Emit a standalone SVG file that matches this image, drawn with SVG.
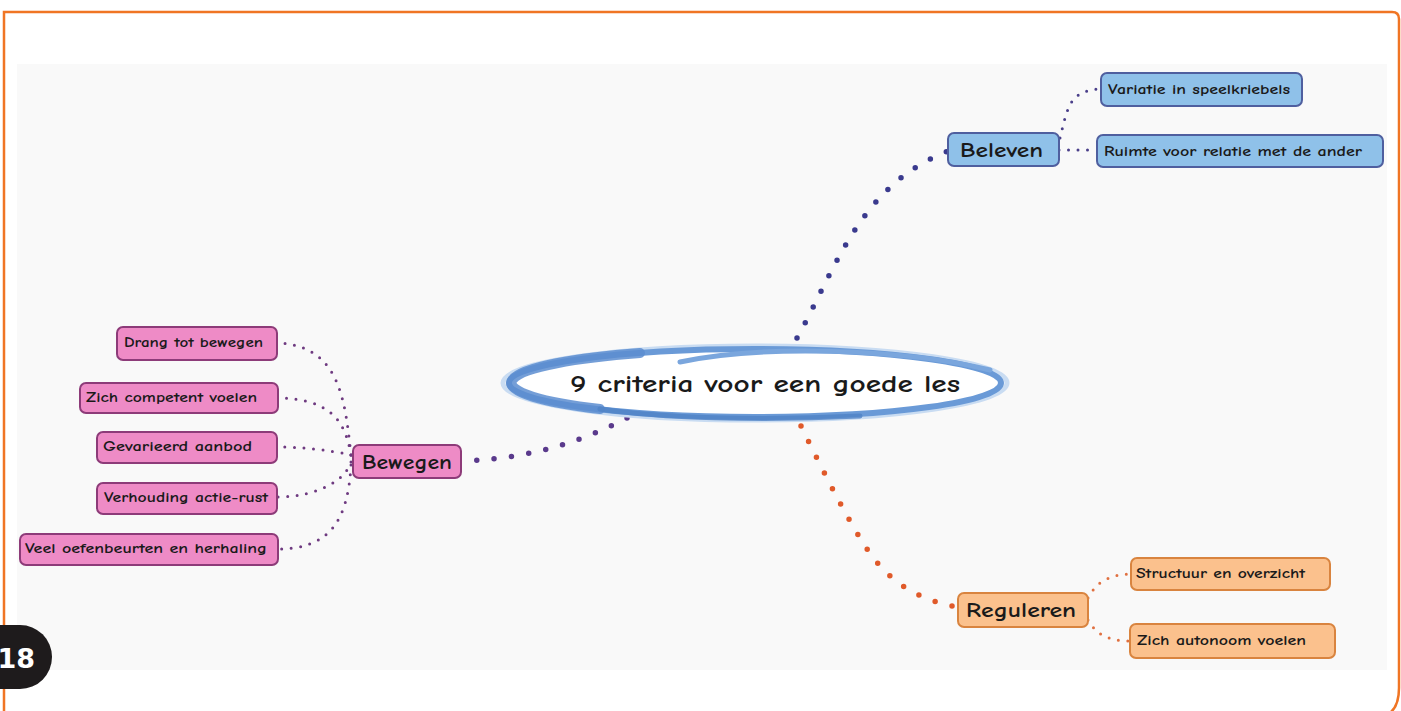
<svg xmlns="http://www.w3.org/2000/svg" width="1401" height="711" viewBox="0 0 1401 711">
<style>
.t{font-family:"Comic Neue","Liberation Sans",sans-serif;fill:#1a1a1a}
.sub{font-size:13px;font-weight:bold}
.main{font-size:20px;font-weight:bold}
.blue{fill:#8fc1e9;stroke:#4f5f9f;stroke-width:2}
.pink{fill:#ee8bc6;stroke:#8d3b79;stroke-width:2}
.orange{fill:#fbc18d;stroke:#d9843f;stroke-width:2}
.big{fill:none;stroke-linecap:round;stroke-width:5.5;stroke-dasharray:0 17.5}
.small{fill:none;stroke-linecap:round;stroke-width:3;stroke-dasharray:0 9.5}
</style>
<rect width="1401" height="711" fill="#ffffff"/>
<rect x="17" y="64" width="1370" height="606" fill="#f9f9f9"/>
<path d="M4,716 V12 H1392 Q1399,12 1399,19 V688 Q1399,711 1384,716" fill="none" stroke="#f07524" stroke-width="2.5"/>
<g id="badge">
<path d="M-10,625 H20 A32,32 0 0 1 20,689 H-10 Z" fill="#1e1b1c"/>
<text x="35" y="668" text-anchor="end" font-family="DejaVu Sans" font-weight="bold" font-size="27" fill="#ffffff">18</text>
</g>
<g id="connectors">
<path class="big" stroke="#3a3a8e" d="M797,338 C835,270 860,185 948,151"/>
<path class="big" stroke="#5a3a8c" d="M627,418 C590,437 540,458 463,461"/>
<path class="big" stroke="#e05a2a" d="M801,426 C825,475 855,535 875,560 C895,585 920,600 957,607"/>
<path class="small" stroke="#4a3f8a" d="M1060,138 C1068,105 1070,91 1100,89"/>
<path class="small" stroke="#4a3f8a" d="M1059,150 H1097"/>
<path class="small" stroke="#6e3a80" d="M351,455 C345,400 340,346 278,343"/>
<path class="small" stroke="#6e3a80" d="M351,455 C345,420 330,399 278,398"/>
<path class="small" stroke="#6e3a80" d="M351,455 C330,450 300,447 278,447"/>
<path class="small" stroke="#6e3a80" d="M351,462 C345,480 320,496 278,497"/>
<path class="small" stroke="#6e3a80" d="M351,465 C348,520 330,549 278,549"/>
<path class="small" stroke="#e07040" d="M1088,598 C1095,585 1105,575 1130,574"/>
<path class="small" stroke="#e07040" d="M1088,620 C1095,632 1105,641 1130,641"/>
</g>
<g id="center">
<ellipse cx="755" cy="383" rx="252" ry="37" fill="none" stroke="#c9dcf2" stroke-width="5"/>
<ellipse cx="755" cy="383" rx="246" ry="34" fill="#ffffff" stroke="#6a9ad7" stroke-width="6"/>
<path d="M640,353 A246,34 0 0 0 600,409" fill="none" stroke="#5c8dd0" stroke-width="10" stroke-linecap="round" opacity="0.85"/>
<path d="M680,362 C760,345 900,348 990,370" fill="none" stroke="#7aa6dd" stroke-width="5" stroke-linecap="round"/>
<path d="M600,409 C660,418 760,421 860,416" fill="none" stroke="#4f82c6" stroke-width="5" stroke-linecap="round" opacity="0.8"/>
<text class="t" x="765" y="392" text-anchor="middle" font-size="24" font-weight="bold" textLength="390" lengthAdjust="spacingAndGlyphs">9 criteria voor een goede les</text>
</g>
<g id="beleven">
<rect class="blue" x="948" y="133" width="111" height="33" rx="6"/>
<text class="t main" x="960" y="157" textLength="83" lengthAdjust="spacingAndGlyphs">Beleven</text>
</g>
<g id="variatie">
<rect class="blue" x="1101" y="73" width="201" height="33" rx="6"/>
<text class="t sub" x="1108" y="94" textLength="182" lengthAdjust="spacingAndGlyphs">Variatie in speelkriebels</text>
</g>
<g id="ruimte">
<rect class="blue" x="1097" y="135" width="286" height="32" rx="6"/>
<text class="t sub" x="1104" y="156" textLength="258" lengthAdjust="spacingAndGlyphs">Ruimte voor relatie met de ander</text>
</g>
<g id="bewegen">
<rect class="pink" x="353" y="445" width="108" height="33" rx="6"/>
<text class="t main" x="362" y="469" textLength="90" lengthAdjust="spacingAndGlyphs">Bewegen</text>
</g>
<g id="drang">
<rect class="pink" x="117" y="327" width="160" height="33" rx="6"/>
<text class="t sub" x="124" y="347" textLength="139" lengthAdjust="spacingAndGlyphs">Drang tot bewegen</text>
</g>
<g id="competent">
<rect class="pink" x="80" y="383" width="198" height="30" rx="6"/>
<text class="t sub" x="86" y="402" textLength="171" lengthAdjust="spacingAndGlyphs">Zich competent voelen</text>
</g>
<g id="gevarieerd">
<rect class="pink" x="97" y="432" width="180" height="31" rx="6"/>
<text class="t sub" x="103" y="451" textLength="149" lengthAdjust="spacingAndGlyphs">Gevarieerd aanbod</text>
</g>
<g id="verhouding">
<rect class="pink" x="97" y="483" width="180" height="31" rx="6"/>
<text class="t sub" x="104" y="502" textLength="164" lengthAdjust="spacingAndGlyphs">Verhouding actie-rust</text>
</g>
<g id="veel">
<rect class="pink" x="20" y="534" width="258" height="31" rx="6"/>
<text class="t sub" x="25" y="553" textLength="242" lengthAdjust="spacingAndGlyphs">Veel oefenbeurten en herhaling</text>
</g>
<g id="reguleren">
<rect class="orange" x="958" y="593" width="130" height="34" rx="6"/>
<text class="t main" x="966" y="617" textLength="110" lengthAdjust="spacingAndGlyphs">Reguleren</text>
</g>
<g id="structuur">
<rect class="orange" x="1131" y="558" width="199" height="32" rx="6"/>
<text class="t sub" x="1136" y="578" textLength="169" lengthAdjust="spacingAndGlyphs">Structuur en overzicht</text>
</g>
<g id="autonoom">
<rect class="orange" x="1130" y="624" width="205" height="34" rx="6"/>
<text class="t sub" x="1137" y="645" textLength="169" lengthAdjust="spacingAndGlyphs">Zich autonoom voelen</text>
</g>
</svg>
